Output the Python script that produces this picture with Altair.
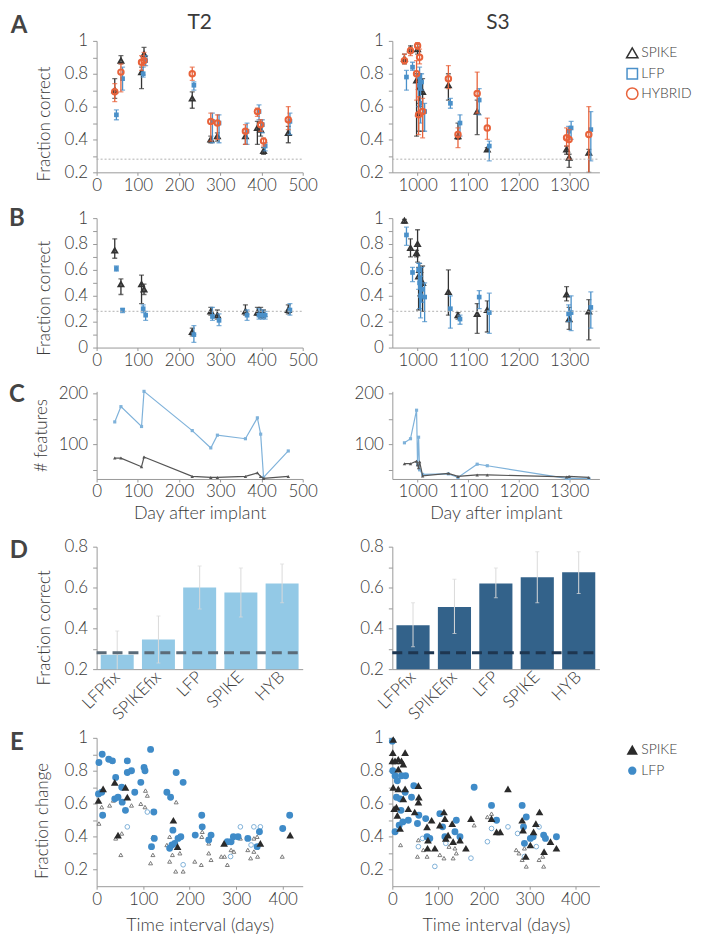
import altair as alt
import pandas as pd

FONT = "Lato"
TXT = "#3a3a3a"
AXC = "#999999"
C_SPIKE = "#333333"
C_LFP = "#4a90c9"
C_HYB = "#e8623a"
CHANCE = 0.28
LFP_SHIFT = 4

# ---------------- Panel A/B/C data : monkey T2 ----------------
T2_DAYS = [44, 59, 109, 115, 232, 277, 293, 361, 390, 398, 405, 465]
T2_A_SPIKE = [0.70, 0.88, 0.81, 0.92, 0.65, 0.40, 0.42, 0.42, 0.47, 0.46, 0.33, 0.44]
T2_A_SPIKE_LO = [0.65, 0.86, 0.71, 0.88, 0.59, 0.38, 0.39, 0.37, 0.37, 0.42, 0.31, 0.38]
T2_A_SPIKE_HI = [0.77, 0.91, 0.84, 0.96, 0.69, 0.42, 0.44, 0.44, 0.51, 0.50, 0.35, 0.48]
T2_A_HYB = [0.69, 0.81, 0.87, 0.88, 0.80, 0.51, 0.50, 0.45, 0.57, 0.49, 0.39, 0.52]
T2_A_HYB_LO = [0.63, 0.69, 0.82, 0.85, 0.76, 0.39, 0.40, 0.37, 0.54, 0.45, 0.36, 0.46]
T2_A_HYB_HI = [0.74, 0.86, 0.91, 0.93, 0.84, 0.56, 0.55, 0.49, 0.59, 0.52, 0.41, 0.60]
T2_A_LFP = [0.55, 0.77, 0.80, 0.88, 0.73, 0.51, 0.50, 0.45, 0.57, 0.49, 0.36, 0.51]
T2_A_LFP_LO = [0.52, 0.70, 0.78, 0.85, 0.70, 0.38, 0.38, 0.37, 0.52, 0.44, 0.33, 0.43]
T2_A_LFP_HI = [0.58, 0.84, 0.84, 0.91, 0.75, 0.56, 0.55, 0.50, 0.61, 0.52, 0.38, 0.56]

T2_B_SPIKE = [0.75, 0.49, 0.49, 0.45, 0.12, 0.28, 0.25, 0.28, 0.27, 0.26, 0.26, 0.29]
T2_B_SPIKE_LO = [0.69, 0.41, 0.34, 0.41, 0.09, 0.25, 0.22, 0.25, 0.25, 0.23, 0.23, 0.26]
T2_B_SPIKE_HI = [0.84, 0.53, 0.56, 0.49, 0.15, 0.31, 0.29, 0.33, 0.31, 0.31, 0.29, 0.33]
T2_B_LFP = [0.61, 0.29, 0.30, 0.25, 0.10, 0.24, 0.21, 0.25, 0.25, 0.25, 0.25, 0.29]
T2_B_LFP_LO = [0.59, 0.27, 0.27, 0.21, 0.04, 0.21, 0.17, 0.21, 0.22, 0.22, 0.22, 0.25]
T2_B_LFP_HI = [0.63, 0.30, 0.33, 0.28, 0.17, 0.31, 0.26, 0.29, 0.30, 0.29, 0.28, 0.34]

T2_C_SPIKE = [73, 73, 56, 75, 37, 35, 35, 37, 44, 37, 33, 37]
T2_C_LFP = [144, 174, 135, 204, 127, 93, 118, 111, 152, 120, 35, 87]

# ---------------- Panel A/B/C data : monkey S3 ----------------
S3_DAYS = [974, 986, 998, 1000, 1002, 1004, 1010, 1061, 1080, 1118, 1138, 1295, 1300, 1339]
S3_A_SPIKE = [0.89, 0.95, 0.76, 0.95, 0.56, 0.72, 0.69, 0.73, 0.42, 0.57, 0.34, 0.34, 0.29, 0.32]
S3_A_SPIKE_LO = [0.86, 0.93, 0.42, 0.92, 0.45, 0.60, 0.45, 0.64, 0.40, 0.43, 0.33, 0.31, 0.23, 0.20]
S3_A_SPIKE_HI = [0.92, 0.97, 0.80, 0.98, 0.62, 0.80, 0.77, 0.80, 0.50, 0.64, 0.35, 0.36, 0.31, 0.34]
S3_A_HYB = [0.88, 0.94, 0.80, 0.97, 0.55, 0.90, 0.57, 0.77, 0.43, 0.68, 0.47, 0.41, 0.40, 0.43]
S3_A_HYB_LO = [0.86, 0.91, 0.64, 0.95, 0.43, 0.86, 0.41, 0.71, 0.35, 0.56, 0.40, 0.36, 0.28, 0.17]
S3_A_HYB_HI = [0.92, 0.96, 0.88, 0.99, 0.66, 0.95, 0.65, 0.85, 0.47, 0.81, 0.53, 0.47, 0.46, 0.60]
S3_A_LFP = [0.78, 0.84, 0.73, 0.78, 0.62, 0.75, 0.57, 0.62, 0.50, 0.64, 0.36, 0.45, 0.47, 0.46]
S3_A_LFP_LO = [0.70, 0.82, 0.60, 0.70, 0.50, 0.70, 0.45, 0.59, 0.42, 0.55, 0.27, 0.42, 0.40, 0.27]
S3_A_LFP_HI = [0.82, 0.87, 0.80, 0.84, 0.75, 0.80, 0.62, 0.65, 0.55, 0.71, 0.39, 0.48, 0.51, 0.57]

S3_B_SPIKE = [0.98, 0.77, 0.73, 0.80, 0.55, 0.60, 0.50, 0.43, 0.25, 0.26, 0.29, 0.41, 0.22, 0.28]
S3_B_SPIKE_LO = [0.96, 0.70, 0.70, 0.66, 0.29, 0.40, 0.28, 0.25, 0.22, 0.11, 0.12, 0.36, 0.14, 0.06]
S3_B_SPIKE_HI = [0.99, 0.84, 0.75, 0.91, 0.62, 0.65, 0.63, 0.60, 0.27, 0.34, 0.36, 0.47, 0.31, 0.37]
S3_B_LFP = [0.87, 0.58, 0.60, 0.50, 0.40, 0.45, 0.39, 0.30, 0.22, 0.39, 0.27, 0.26, 0.27, 0.31]
S3_B_LFP_LO = [0.79, 0.51, 0.45, 0.30, 0.23, 0.35, 0.20, 0.15, 0.18, 0.30, 0.11, 0.20, 0.13, 0.15]
S3_B_LFP_HI = [0.93, 0.62, 0.65, 0.65, 0.55, 0.62, 0.50, 0.40, 0.25, 0.44, 0.42, 0.33, 0.40, 0.43]

S3_C_SPIKE = [62, 62, 67, 60, 54, 66, 38, 43, 37, 40, 40, 36, 37, 35]
S3_C_LFP = [103, 111, 167, 60, 114, 50, 41, 42, 35, 61, 58, 33, 33, 33]

# ---------------- Panel D data ----------------
D_COND = ["LFPfix", "SPIKEfix", "LFP", "SPIKE", "HYB"]
D_T2 = [0.27, 0.345, 0.60, 0.575, 0.62]
D_T2_LO = [0.17, 0.23, 0.495, 0.455, 0.525]
D_T2_HI = [0.387, 0.46, 0.705, 0.695, 0.715]
D_S3 = [0.415, 0.505, 0.62, 0.65, 0.675]
D_S3_LO = [0.31, 0.375, 0.55, 0.525, 0.57]
D_S3_HI = [0.525, 0.64, 0.695, 0.775, 0.775]

# ---------------- Panel E data ----------------
E_T2_LFP_T = [5, 12, 26, 34, 41, 66, 66, 75, 4, 11, 13, 39, 46, 54, 55, 62, 82, 95, 102, 104,
              116, 123, 118, 124, 151, 159, 171, 186, 164, 157, 162, 168, 175, 181, 212, 227,
              226, 241, 246, 289, 281, 294, 304, 325, 345, 350, 400, 415]
E_T2_LFP_V = [0.85, 0.90, 0.87, 0.86, 0.76, 0.86, 0.79, 0.80, 0.66, 0.67, 0.53, 0.63, 0.64, 0.70,
              0.61, 0.56, 0.67, 0.73, 0.82, 0.80, 0.93, 0.55, 0.34, 0.39, 0.67, 0.64, 0.79, 0.73,
              0.44, 0.33, 0.35, 0.36, 0.39, 0.40, 0.41, 0.46, 0.53, 0.38, 0.41, 0.37, 0.37, 0.40,
              0.40, 0.39, 0.34, 0.43, 0.45, 0.53]
E_T2_SPIKE_T = [4, 14, 39, 46, 62, 66, 165, 174, 274, 352, 416]
E_T2_SPIKE_V = [0.62, 0.69, 0.73, 0.41, 0.70, 0.64, 0.50, 0.34, 0.36, 0.36, 0.41]
E_T2_SPIKE_H_T = [5, 11, 28, 36, 41, 54, 52, 75, 95, 104, 105, 109, 121, 121, 116, 151, 157, 157,
                  163, 170, 171, 179, 186, 211, 225, 227, 226, 241, 241, 246, 268, 275, 281, 289,
                  295, 309, 325, 331, 338, 338, 345, 346, 399]
E_T2_SPIKE_H_V = [0.48, 0.58, 0.59, 0.62, 0.39, 0.42, 0.29, 0.59, 0.60, 0.58, 0.68, 0.65, 0.40,
                  0.29, 0.24, 0.35, 0.40, 0.25, 0.29, 0.19, 0.61, 0.30, 0.19, 0.25, 0.23, 0.43,
                  0.40, 0.36, 0.30, 0.26, 0.28, 0.28, 0.23, 0.32, 0.31, 0.39, 0.32, 0.27, 0.39,
                  0.31, 0.40, 0.28, 0.28]
E_T2_LFP_H_T = [66, 109, 186, 288, 309, 338, 352, 332, 346]
E_T2_LFP_H_V = [0.46, 0.55, 0.23, 0.28, 0.46, 0.46, 0.46, 0.35, 0.34]

E_S3_SPIKE_T = [2, 1, 0, 6, 13, 20, 28, 24, 13, 2, 13, 28, 24, 9, 4, 11, 17, 35, 57, 58, 57, 49,
                86, 76, 78, 77, 93, 104, 113, 115, 117, 122, 131, 133, 148, 161, 172, 217, 228,
                236, 253, 284, 286, 292, 302, 309, 314, 322, 332, 346, 359]
E_S3_SPIKE_V = [0.99, 0.91, 0.86, 0.86, 0.87, 0.86, 0.91, 0.84, 0.81, 0.70, 0.69, 0.69, 0.63,
                0.58, 0.57, 0.53, 0.45, 0.57, 0.71, 0.64, 0.61, 0.55, 0.50, 0.46, 0.38, 0.33,
                0.33, 0.47, 0.55, 0.51, 0.39, 0.41, 0.48, 0.37, 0.38, 0.33, 0.51, 0.51, 0.43,
                0.43, 0.69, 0.50, 0.44, 0.28, 0.35, 0.43, 0.48, 0.55, 0.31, 0.37, 0.33]
E_S3_LFP_T = [0, 1, 6, 11, 20, 29, 6, 15, 23, 35, 9, 17, 19, 28, 42, 47, 58, 55, 73, 76, 82, 104,
              110, 115, 137, 140, 148, 179, 217, 228, 284, 287, 293, 289, 302, 308, 331, 335, 359]
E_S3_LFP_V = [0.98, 0.80, 0.77, 0.74, 0.77, 0.77, 0.43, 0.47, 0.49, 0.50, 0.64, 0.63, 0.56, 0.67,
              0.64, 0.71, 0.53, 0.48, 0.51, 0.40, 0.39, 0.54, 0.46, 0.40, 0.43, 0.50, 0.40, 0.70,
              0.59, 0.50, 0.59, 0.46, 0.52, 0.36, 0.39, 0.40, 0.41, 0.39, 0.40]
E_S3_SPIKE_H_T = [18, 57, 55, 68, 76, 104, 113, 124, 137, 133, 140, 179, 208, 217, 271, 277, 284,
                  289, 293, 321, 331, 329]
E_S3_SPIKE_H_V = [0.35, 0.38, 0.28, 0.32, 0.28, 0.29, 0.27, 0.34, 0.33, 0.27, 0.30, 0.47, 0.52,
                  0.54, 0.32, 0.30, 0.26, 0.33, 0.22, 0.26, 0.22, 0.28]
E_S3_LFP_H_T = [57, 66, 93, 117, 172, 208, 217, 253, 274, 289, 315, 321]
E_S3_LFP_H_V = [0.34, 0.39, 0.22, 0.36, 0.27, 0.37, 0.45, 0.46, 0.42, 0.28, 0.34, 0.46]

# ---------------- layout constants ----------------
W_L, W_R = 207, 208
H_A, H_B, H_C, H_D, H_E = 132, 130, 88, 123, 149
DUMMY = pd.DataFrame({"k": [0]})
CHANCE_DF = pd.DataFrame({"c": [CHANCE]})

Y01 = [round(0.1 * i, 1) for i in range(2, 11)]
Y00 = [round(0.1 * i, 1) for i in range(0, 11)]
YD = [round(0.1 * i, 1) for i in range(2, 9)]
EXPR_EVEN = "round(datum.value*10) % 2 == 0 ? format(datum.value, '~g') : ''"
LBL = 17


def y_axis(values, expr, title=None, tx=-52, ty=80):
    kw = dict(values=values, labelExpr=expr, labelFont=FONT, labelFontSize=LBL, labelFontWeight=300,
              labelColor=TXT, labelPadding=5, labelFlush=False, labelOverlap=False,
              domainColor=AXC, tickColor=AXC, tickSize=4, grid=False)
    if title:
        kw.update(title=title, titleFont=FONT, titleFontSize=17, titleFontWeight=300,
                  titleColor=TXT, titleAngle=270, titleAlign="center", titleBaseline="middle",
                  titleX=tx, titleY=ty)
    else:
        kw.update(title=None)
    return alt.Axis(**kw)


def x_axis(values, title=None, pad=8):
    kw = dict(values=values, format="d", labelFont=FONT, labelFontSize=LBL, labelFontWeight=300,
              labelColor=TXT, labelPadding=2, labelFlush=False, labelOverlap=False,
              domainColor=AXC, tickColor=AXC, tickSize=3, grid=False)
    if title:
        kw.update(title=title, titleFont=FONT, titleFontSize=18, titleFontWeight=300,
                  titleColor=TXT, titlePadding=pad)
    else:
        kw.update(title=None)
    return alt.Axis(**kw)


def lin(domain):
    return alt.Scale(domain=domain, nice=False, zero=False)


def letter(ch, dx, dy):
    return alt.Chart(DUMMY).mark_text(text=ch, font=FONT, fontSize=24, fontWeight="bold",
                                      color="#444444", align="center", baseline="middle"
                                      ).encode(x=alt.value(dx), y=alt.value(dy))


def chance_rule(w, ys, ya):
    return alt.Chart(CHANCE_DF).mark_rule(color="#b0b0b0", strokeDash=[2, 2], strokeWidth=1).encode(
        x=alt.value(0), x2=alt.value(w), y=alt.Y("c:Q", scale=ys, axis=ya))


def session_layers(days, series, xs, ys, xa, ya, w):
    layers = []
    for vals, lo, hi, shift, color, shape, filled, size, sw in series:
        df = pd.DataFrame({"day": [d + shift for d in days], "val": vals, "lo": lo, "hi": hi})
        X = alt.X("day:Q", scale=xs, axis=xa)
        base = alt.Chart(df)
        layers.append(base.mark_rule(color=color, strokeWidth=1.3, clip=True).encode(
            x=X, y=alt.Y("lo:Q", scale=ys, axis=ya), y2="hi:Q"))
        for f in ("lo", "hi"):
            layers.append(base.mark_tick(color=color, orient="horizontal", size=5, thickness=1.3,
                                         clip=True).encode(x=X, y=alt.Y(f + ":Q", scale=ys, axis=ya)))
        layers.append(base.mark_point(shape=shape, filled=filled, color=color, size=size,
                                      strokeWidth=sw, opacity=1).encode(
            x=X, y=alt.Y("val:Q", scale=ys, axis=ya)))
    layers.append(chance_rule(w, ys, ya))
    return layers


def a_series(sp, splo, sphi, lf, lflo, lfhi, hy=None, hylo=None, hyhi=None):
    s = [(sp, splo, sphi, 0, C_SPIKE, "triangle-up", False, 26, 1.8),
         (lf, lflo, lfhi, LFP_SHIFT, C_LFP, "square", True, 22, 1)]
    if hy is not None:
        s.append((hy, hylo, hyhi, 0, C_HYB, "circle", False, 30, 2))
    return s


def c_layers(days, spike, lfp, xs, ys, xa, ya):
    df = pd.DataFrame({"day": days, "s": spike, "l": lfp})
    X = alt.X("day:Q", scale=xs, axis=xa)
    base = alt.Chart(df)
    cl, cs = "#7fb2da", "#555555"
    return [
        base.mark_line(color=cl, strokeWidth=1.2).encode(x=X, y=alt.Y("l:Q", scale=ys, axis=ya)),
        base.mark_point(shape="square", filled=True, color=cl, size=10, opacity=1).encode(
            x=X, y=alt.Y("l:Q", scale=ys, axis=ya)),
        base.mark_line(color=cs, strokeWidth=1.2).encode(x=X, y=alt.Y("s:Q", scale=ys, axis=ya)),
        base.mark_point(shape="triangle-up", filled=True, color=cs, size=12, opacity=1).encode(
            x=X, y=alt.Y("s:Q", scale=ys, axis=ya)),
    ]


def d_layers(vals, lo, hi, bar_color, dash_color, ya, w):
    df = pd.DataFrame({"cond": D_COND, "val": vals, "lo": lo, "hi": hi})
    xa = alt.Axis(title=None, labelAngle=-45, labelAlign="right", labelBaseline="middle",
                  labelFont=FONT, labelFontSize=LBL, labelFontWeight=300, labelColor=TXT,
                  ticks=False, labelPadding=5, domainColor=AXC)
    X = alt.X("cond:N", sort=D_COND, scale=alt.Scale(paddingInner=0.2, paddingOuter=0.1), axis=xa)
    ys = lin([0.2, 0.8])
    base = alt.Chart(df)
    ec = "#dadada"
    out = [
        base.mark_bar(color=bar_color).encode(x=X, y=alt.Y("val:Q", scale=ys, axis=ya),
                                              y2=alt.datum(0.2)),
        base.mark_rule(color=ec, strokeWidth=1, clip=True).encode(
            x=X, y=alt.Y("lo:Q", scale=ys, axis=ya), y2="hi:Q"),
    ]
    for f in ("lo", "hi"):
        out.append(base.mark_tick(color=ec, orient="horizontal", size=4, thickness=1, clip=True).encode(
            x=X, y=alt.Y(f + ":Q", scale=ys, axis=ya)))
    out.append(alt.Chart(CHANCE_DF).mark_rule(color=dash_color, strokeDash=[10, 6], strokeWidth=3).encode(
        x=alt.value(0), x2=alt.value(w), y=alt.Y("c:Q", scale=ys, axis=ya)))
    return out


def e_layers(groups, xs, ys, xa, ya):
    out = []
    for t, v, shape, filled, color, size, sw in groups:
        df = pd.DataFrame({"t": t, "v": v})
        out.append(alt.Chart(df).mark_point(shape=shape, filled=filled, color=color, size=size,
                                            strokeWidth=sw, opacity=1).encode(
            x=alt.X("t:Q", scale=xs, axis=xa), y=alt.Y("v:Q", scale=ys, axis=ya)))
    return out


def legend_item(shape, filled, color, size, sw, label, dx, dy):
    sym = alt.Chart(DUMMY).mark_point(shape=shape, filled=filled, color=color, size=size,
                                      strokeWidth=sw, opacity=1).encode(
        x=alt.value(dx), y=alt.value(dy))
    txt = alt.Chart(DUMMY).mark_text(text=label, font=FONT, fontSize=14, fontWeight=300,
                                     color=TXT, align="left", baseline="middle").encode(
        x=alt.value(dx + 9), y=alt.value(dy))
    return [sym, txt]


def title_text(label, dx):
    return alt.Chart(DUMMY).mark_text(text=label, font=FONT, fontSize=21, color=TXT,
                                      align="center", baseline="middle").encode(
        x=alt.value(dx), y=alt.value(-18))


# ---------------- scales ----------------
XS_T2 = lin([0, 500])
XS_S3 = lin([950, 1360])
XV_T2 = [0, 100, 200, 300, 400, 500]
XV_S3 = [1000, 1100, 1200, 1300]

# ---------------- Row A ----------------
anchor = alt.Chart(DUMMY).mark_point(opacity=0, size=1).encode(x=alt.value(-87), y=alt.value(-30))
YS_A = lin([0.2, 1.0])

A_l = alt.layer(
    *session_layers(T2_DAYS, a_series(T2_A_SPIKE, T2_A_SPIKE_LO, T2_A_SPIKE_HI,
                                      T2_A_LFP, T2_A_LFP_LO, T2_A_LFP_HI,
                                      T2_A_HYB, T2_A_HYB_LO, T2_A_HYB_HI),
                    XS_T2, YS_A, x_axis(XV_T2), y_axis(Y01, EXPR_EVEN, "Fraction correct", -52, 83), W_L),
    letter("A", -78, -15), title_text("T2", W_L / 2), anchor
).properties(width=W_L, height=H_A)

A_r = alt.layer(
    *session_layers(S3_DAYS, a_series(S3_A_SPIKE, S3_A_SPIKE_LO, S3_A_SPIKE_HI,
                                      S3_A_LFP, S3_A_LFP_LO, S3_A_LFP_HI,
                                      S3_A_HYB, S3_A_HYB_LO, S3_A_HYB_HI),
                    XS_S3, YS_A, x_axis(XV_S3), y_axis(Y01, EXPR_EVEN), W_R),
    title_text("S3", 106),
    *legend_item("triangle-up", False, C_SPIKE, 130, 1.5, "SPIKE", 241, 12),
    *legend_item("square", False, C_LFP, 110, 1.5, "LFP", 241, 33),
    *legend_item("circle", False, C_HYB, 130, 1.5, "HYBRID", 241, 53),
).properties(width=W_R, height=H_A)

# ---------------- Row B ----------------
YS_B = lin([0, 1.0])
B_l = alt.layer(
    *session_layers(T2_DAYS, a_series(T2_B_SPIKE, T2_B_SPIKE_LO, T2_B_SPIKE_HI,
                                      T2_B_LFP, T2_B_LFP_LO, T2_B_LFP_HI),
                    XS_T2, YS_B, x_axis(XV_T2),
                    y_axis(Y00, EXPR_EVEN, "Fraction correct", -52, 80), W_L),
    letter("B", -80, 1)
).properties(width=W_L, height=H_B)

B_r = alt.layer(
    *session_layers(S3_DAYS, a_series(S3_B_SPIKE, S3_B_SPIKE_LO, S3_B_SPIKE_HI,
                                      S3_B_LFP, S3_B_LFP_LO, S3_B_LFP_HI),
                    XS_S3, YS_B, x_axis(XV_S3), y_axis(Y00, EXPR_EVEN), W_R),
).properties(width=W_R, height=H_B)

# ---------------- Row C ----------------
YC = [50, 100, 150, 200]
EXPR_C = "datum.value % 100 == 0 ? datum.label : ''"
C_l = alt.layer(
    *c_layers(T2_DAYS, T2_C_SPIKE, T2_C_LFP, XS_T2, lin([32, 204]),
              x_axis(XV_T2, "Day after implant", 5), y_axis(YC, EXPR_C, "# features", -55, 44)),
    letter("C", -80, 4)
).properties(width=W_L, height=H_C)

C_r = alt.layer(
    *c_layers(S3_DAYS, S3_C_SPIKE, S3_C_LFP, XS_S3, lin([32, 204]),
              x_axis(XV_S3, "Day after implant", 5), y_axis(YC, EXPR_C))
).properties(width=W_R, height=H_C)

# ---------------- Row D ----------------
D_l = alt.layer(
    *d_layers(D_T2, D_T2_LO, D_T2_HI, "#93c9e6", "#5b6b78",
              y_axis(YD, EXPR_EVEN, "Fraction correct", -52, 81), W_L),
    letter("D", -78, 4)
).properties(width=W_L, height=H_D)

D_r = alt.layer(
    *d_layers(D_S3, D_S3_LO, D_S3_HI, "#33628a", "#1e3650", y_axis(YD, EXPR_EVEN), W_R)
).properties(width=W_R, height=H_D)

# ---------------- Row E ----------------
XV_E = [0, 100, 200, 300, 400]
C_HOLLOW_T = "#7a7a7a"
C_HOLLOW_C = "#7fb0d8"
C_E_BLUE = "#3f8bc8"
C_E_DARK = "#2a2a2a"


def e_groups(sh_t, sh_v, lh_t, lh_v, l_t, l_v, s_t, s_v):
    return [
        (sh_t, sh_v, "triangle-up", False, C_HOLLOW_T, 16, 1),
        (lh_t, lh_v, "circle", False, C_HOLLOW_C, 22, 1),
        (l_t, l_v, "circle", True, C_E_BLUE, 48, 1),
        (s_t, s_v, "triangle-up", True, C_E_DARK, 60, 1),
    ]


E_l = alt.layer(
    *e_layers(e_groups(E_T2_SPIKE_H_T, E_T2_SPIKE_H_V, E_T2_LFP_H_T, E_T2_LFP_H_V,
                       E_T2_LFP_T, E_T2_LFP_V, E_T2_SPIKE_T, E_T2_SPIKE_V),
              lin([0, 443]), lin([0.1, 1.0]), x_axis(XV_E, "Time interval (days)", 10),
              y_axis(Y01, EXPR_EVEN, "Fraction change", -54, 83)),
    letter("E", -80, 5)
).properties(width=W_L, height=H_E)

E_r = alt.layer(
    *e_layers(e_groups(E_S3_SPIKE_H_T, E_S3_SPIKE_H_V, E_S3_LFP_H_T, E_S3_LFP_H_V,
                       E_S3_LFP_T, E_S3_LFP_V, E_S3_SPIKE_T, E_S3_SPIKE_V),
              lin([0, 453]), lin([0.1, 1.0]), x_axis(XV_E, "Time interval (days)", 10),
              y_axis(Y01, EXPR_EVEN)),
    *legend_item("triangle-up", True, C_E_DARK, 130, 1, "SPIKE", 241, 12),
    *legend_item("circle", True, C_E_BLUE, 70, 1, "LFP", 241, 33),
).properties(width=W_R, height=H_E)


def spacer(h):
    return alt.Chart(DUMMY).mark_point(opacity=0, size=1).encode(
        x=alt.value(0), y=alt.value(0)).properties(width=1, height=h)


chart = alt.concat(
    A_l, A_r, spacer(46), spacer(46),
    B_l, B_r, spacer(44), spacer(44),
    C_l, C_r, spacer(68), spacer(68),
    D_l, D_r, spacer(69), spacer(69),
    E_l, E_r,
    columns=2, spacing={"row": 0, "column": 90}, bounds="flush", align="each",
).properties(padding=0).configure_view(stroke="transparent")

chart.save("out.html", embed_options={"renderer": "svg", "actions": False})
